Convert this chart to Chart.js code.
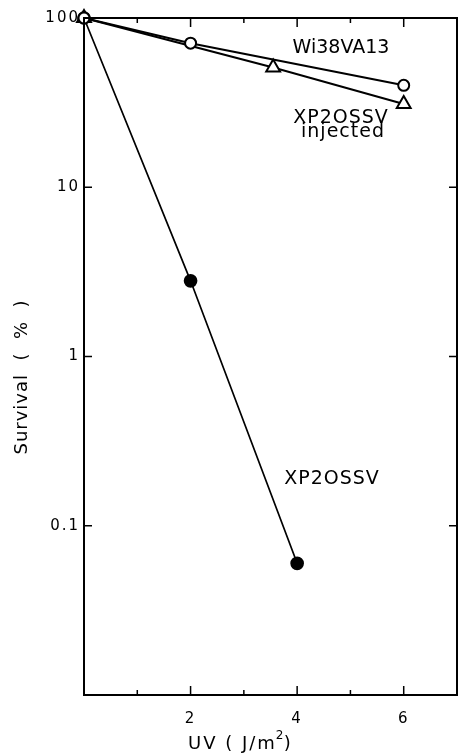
<!DOCTYPE html>
<html>
<head>
<meta charset="utf-8">
<script src="https://cdn.jsdelivr.net/npm/chart.js@4"></script>
<style>
  html, body { margin: 0; padding: 0; background: #fff; overflow: hidden; }
  #wrap { width: 458px; height: 753px; position: relative; }
  canvas { display: block; }
</style>
</head>
<body>
<div id="wrap"><canvas id="uvChart"></canvas></div>
<script>
// survival curves, UV dose in J/m2, survival in %
const wi38Dose = [0, 2, 6];
const wi38Survival = [100, 71, 40];

const injectedDose = [0, 3.55, 6];
const injectedSurvival = [100, 51, 31];

const xpDose = [0, 2, 4];
const xpSurvival = [100, 2.8, 0.06];

const yTickLabels = [100, 10, 1, 0.1];
const xTickLabels = [2, 4, 6];

function toPoints(xs, ys) {
  return xs.map((x, i) => ({ x: x, y: ys[i] }));
}

// frame, inward ticks and the text labels
const framePlugin = {
  id: 'frame',
  beforeDraw(chart) {
    chart.ctx.letterSpacing = '2px';
  },
  afterDraw(chart) {
    const ctx = chart.ctx;
    const a = chart.chartArea;
    const xs = chart.scales.x;
    const ys = chart.scales.y;
    ctx.save();
    ctx.letterSpacing = '0px';
    ctx.strokeStyle = '#000';
    ctx.lineWidth = 2;
    ctx.strokeRect(a.left, a.top, a.right - a.left, a.bottom - a.top);

    ctx.lineWidth = 1.5;
    ctx.beginPath();
    for (let v = 1; v <= 6; v++) {
      const px = xs.getPixelForValue(v);
      const len = v % 2 === 0 ? 9 : 5;
      ctx.moveTo(px, a.bottom); ctx.lineTo(px, a.bottom - len);
      ctx.moveTo(px, a.top); ctx.lineTo(px, a.top + len);
    }
    [10, 1, 0.1].forEach(v => {
      const py = ys.getPixelForValue(v);
      ctx.moveTo(a.left, py); ctx.lineTo(a.left + 8, py);
      ctx.moveTo(a.right, py); ctx.lineTo(a.right - 8, py);
    });
    ctx.stroke();

    ctx.fillStyle = '#000';
    ctx.textBaseline = 'alphabetic';
    ctx.textAlign = 'center';
    ctx.font = '19px "DejaVu Sans"';
    ctx.letterSpacing = '0px';
    ctx.fillText('Wi38VA13', 341, 53);
    ctx.letterSpacing = '1px';
    ctx.fillText('XP2OSSV', 341, 123);
    ctx.fillText('injected', 343, 137);
    ctx.fillText('XP2OSSV', 332, 484);

    // x title
    ctx.font = '18px "DejaVu Sans"';
    ctx.textAlign = 'left';
    ctx.letterSpacing = '2px';
    const main = 'UV ( J/m';
    ctx.fillText(main, 188, 749);
    const w = ctx.measureText(main).width;
    ctx.font = '12px "DejaVu Sans"';
    ctx.letterSpacing = '0px';
    ctx.fillText('2', 188 + w - 1, 739);
    ctx.font = '18px "DejaVu Sans"';
    ctx.fillText(')', 188 + w + 7, 749);

    // y title
    ctx.translate(27, 377);
    ctx.rotate(-Math.PI / 2);
    ctx.textAlign = 'center';
    ctx.letterSpacing = '1px';
    ctx.fillText('Survival  (  %  )', 0, 0);
    ctx.restore();
  }
};

const ctx = document.getElementById('uvChart');
new Chart(ctx, {
  type: 'scatter',
  data: {
    datasets: [
      {
        label: 'Wi38VA13',
        data: toPoints(wi38Dose, wi38Survival),
        showLine: true,
        borderColor: '#000',
        borderWidth: 2,
        pointStyle: 'circle',
        pointRadius: 5.5,
        pointBorderWidth: 2,
        pointBackgroundColor: '#fff',
        pointBorderColor: '#000',
        clip: false
      },
      {
        label: 'XP2OSSV injected',
        data: toPoints(injectedDose, injectedSurvival),
        showLine: true,
        borderColor: '#000',
        borderWidth: 2,
        pointStyle: 'triangle',
        pointRadius: 8,
        pointBorderWidth: 2,
        pointBackgroundColor: '#fff',
        pointBorderColor: '#000',
        clip: false
      },
      {
        label: 'XP2OSSV',
        data: toPoints(xpDose, xpSurvival),
        showLine: true,
        borderColor: '#000',
        borderWidth: 1.7,
        pointStyle: 'circle',
        pointRadius: 6,
        pointBackgroundColor: '#000',
        pointBorderColor: '#000',
        clip: false
      }
    ]
  },
  options: {
    responsive: true,
    maintainAspectRatio: false,
    animation: false,
    layout: { autoPadding: false, padding: { top: 18, right: 1, left: 0, bottom: 0 } },
    plugins: {
      legend: { display: false },
      tooltip: { enabled: false }
    },
    scales: {
      x: {
        type: 'linear',
        min: 0,
        max: 7,
        grid: { display: false, drawTicks: false },
        border: { display: false },
        afterFit: s => { s.height = 58; s.paddingLeft = 0; s.paddingRight = 0; },
        ticks: {
          stepSize: 1,
          padding: 15,
          color: '#000',
          font: { family: 'DejaVu Sans', size: 15 },
          callback: v => xTickLabels.includes(v) ? String(v) : ''
        }
      },
      y: {
        type: 'logarithmic',
        min: 0.01,
        max: 100,
        grid: { display: false, drawTicks: false },
        border: { display: false },
        afterFit: s => { s.width = 84; s.paddingTop = 0; s.paddingBottom = 0; },
        ticks: {
          padding: 4,
          color: '#000',
          autoSkip: false,
          font: { family: 'DejaVu Sans', size: 15 },
          callback: v => yTickLabels.includes(v) ? String(v) : ''
        }
      }
    }
  },
  plugins: [framePlugin]
});
</script>
</body>
</html>
